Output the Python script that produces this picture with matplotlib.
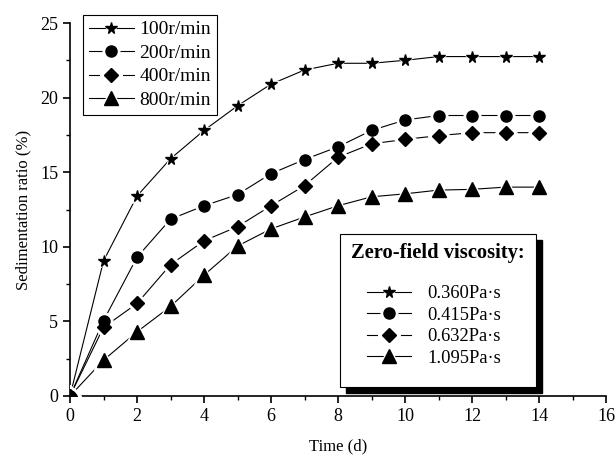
import matplotlib
matplotlib.use("Agg")
import matplotlib.pyplot as plt
from matplotlib.patches import Rectangle
from matplotlib.ticker import MultipleLocator

plt.rcParams['font.family'] = ['Liberation Serif', 'DejaVu Serif']
plt.rcParams['mathtext.fontset'] = 'stix'

days = [0, 1, 2, 3, 4, 5, 6, 7, 8, 9, 10, 11, 12, 13, 14]
r100 = [0, 9.05, 13.4, 15.9, 17.8, 19.45, 20.9, 21.85, 22.3, 22.3, 22.5, 22.75, 22.75, 22.75, 22.75]
r200 = [0, 5.05, 9.3, 11.85, 12.75, 13.5, 14.9, 15.85, 16.7, 17.8, 18.5, 18.8, 18.8, 18.8, 18.8]
r400 = [0, 4.6, 6.2, 8.8, 10.4, 11.35, 12.75, 14.1, 16.0, 16.9, 17.2, 17.45, 17.65, 17.65, 17.65]
r800 = [0, 2.4, 4.3, 6.0, 8.1, 10.05, 11.2, 12.0, 12.75, 13.35, 13.55, 13.8, 13.85, 14.0, 14.0]

speed_labels = ['100r/min', '200r/min', '400r/min', '800r/min']
visc_labels = ['0.360Pa\u00b7s', '0.415Pa\u00b7s', '0.632Pa\u00b7s', '1.095Pa\u00b7s']
legend_title = 'Zero-field viscosity:'

W, H = 616, 458
fig = plt.figure(figsize=(W / 100, H / 100), dpi=100)
ax = fig.add_axes([70 / W, 1 - 396 / H, 536 / W, 373 / H])

series = [r100, r200, r400, r800]
markers = ['*', 'o', 'D', '^']
sizes = [8.5, 8, 7.5, 10]
handles = []
for ys, m, s in zip(series, markers, sizes):
    l1, = ax.plot(days, ys, color='k', lw=0.8, zorder=2)
    l2, = ax.plot(days, ys, ls='none', marker=m, ms=s + 4, mfc='w', mec='w', zorder=3)
    l3, = ax.plot(days, ys, ls='none', marker=m, ms=s, mfc='k', mec='k', zorder=4)
    handles.append((l1, l2, l3))

ax.set_xlim(0, 16)
ax.set_ylim(0, 25)
ax.xaxis.set_major_locator(MultipleLocator(2))
ax.xaxis.set_minor_locator(MultipleLocator(1))
ax.yaxis.set_major_locator(MultipleLocator(5))
ax.yaxis.set_minor_locator(MultipleLocator(2.5))
for sp in ['top', 'right']:
    ax.spines[sp].set_visible(False)
for sp in ['left', 'bottom']:
    ax.spines[sp].set_linewidth(1.2)
ax.tick_params(which='major', direction='out', length=5, width=1.2, labelsize=13)
ax.tick_params(which='minor', direction='out', length=3, width=1.0)
ax.set_xlabel('Time (d)', fontsize=12, labelpad=10)
ax.set_ylabel('Sedimentation ratio (%)', fontsize=12, labelpad=6)

leg1 = fig.legend(handles, speed_labels, loc='upper left',
                  bbox_to_anchor=(83 / W, 1 - 15 / H), bbox_transform=fig.transFigure,
                  borderaxespad=0, fontsize=14, handlelength=2.3, handletextpad=0.3,
                  labelspacing=0.3, borderpad=0.3, fancybox=False, framealpha=1,
                  edgecolor='k')
leg1.get_frame().set_linewidth(0.8)

# second legend box with shadow
fig.patches.append(Rectangle((346 / W, 1 - 393 / H), 196 / W, 153 / H,
                             transform=fig.transFigure, facecolor='k', edgecolor='k', zorder=5))
fig.patches.append(Rectangle((340 / W, 1 - 387 / H), 196 / W, 153 / H,
                             transform=fig.transFigure, facecolor='w', edgecolor='k',
                             lw=0.8, zorder=6))
fig.text(438 / W, 1 - 253 / H, legend_title, fontsize=14.8, fontweight='bold',
         ha='center', va='center', zorder=7)
leg2 = fig.legend(handles, visc_labels, loc='center',
                  bbox_to_anchor=(434 / W, 1 - 326 / H), bbox_transform=fig.transFigure,
                  borderaxespad=0, fontsize=13.3, handlelength=2.4, handletextpad=0.9,
                  labelspacing=0.25, frameon=False)
leg2.set_zorder(8)

fig.savefig('out.png', dpi=100)
